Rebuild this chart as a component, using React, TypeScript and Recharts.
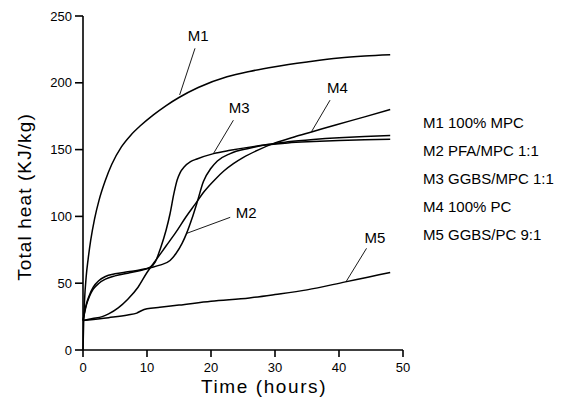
import {
  LineChart,
  Line,
  XAxis,
  YAxis,
  ReferenceLine,
  ReferenceDot,
  Legend,
} from "recharts";

const FONT = "'Liberation Sans', Arial, Helvetica, sans-serif";

// hours / total heat (KJ/kg)
const M1_HOURS = [0, 0.1, 0.25, 0.5, 0.8, 1.2, 1.8, 2.5, 3.5, 4.5, 6, 7.5, 9, 11, 13, 15, 18, 22.5, 26, 30, 35, 40, 44, 48];
const M1_HEAT = [0, 20, 38, 55, 68, 82, 98, 112, 127, 139, 152, 161, 168, 176, 183, 189, 196.5, 204.5, 208.5, 212, 215.5, 218.5, 220, 221];

const M2_HOURS = [0, 0.5, 1, 1.6, 2.5, 3.5, 5, 7, 9, 10.5, 12, 13.6, 14.5, 15.5, 16.2, 17, 17.8, 18.8, 20, 21, 23, 26, 29, 32, 36, 40, 44, 48];
const M2_HEAT = [22, 33, 40, 45.5, 50, 53, 55.5, 57.5, 59.5, 61.5, 63.5, 67, 72, 80, 87.5, 98, 110, 126, 136, 141.5, 147, 151, 154, 155.8, 157.5, 158.8, 159.8, 160.5];

const M3_HOURS = [0, 0.5, 1, 1.6, 2.5, 3.5, 5, 7, 9, 10.5, 11.3, 12.1, 13, 13.6, 14.2, 14.7, 15.2, 15.8, 16.8, 17.8, 20.4, 23, 27.7, 32, 36, 40, 44, 48];
const M3_HEAT = [22, 34, 41, 47, 52, 55, 57, 58.5, 60, 62, 66, 76, 90, 102, 117, 127, 133, 137, 141, 143, 147, 149.5, 153, 155, 156, 156.8, 157.4, 157.8];

const M4_HOURS = [0, 1.5, 3, 4, 5.5, 7, 8.6, 10, 11.5, 13, 14.5, 16, 17.5, 19, 20.6, 22, 23.5, 25, 27.5, 30, 33, 35.7, 39.6, 44, 48];
const M4_HEAT = [22, 23.5, 25, 27, 31.5, 38, 47, 58, 68, 78, 88, 99, 109, 119, 127.5, 134, 139.5, 144, 150, 155, 159.5, 163.2, 168.6, 174.5, 180];

const M5_HOURS = [0, 4, 7, 8.4, 9.2, 10, 12, 15, 20, 26, 30, 35, 41, 44.5, 48];
const M5_HEAT = [22, 24.2, 26.2, 27.6, 29.6, 30.8, 32, 33.6, 36.5, 39, 41.5, 45, 51, 54.5, 58];

const SERIES_TAGS = ["M1", "M2", "M3", "M4", "M5"];
const SERIES_NAMES = [
  "M1 100% MPC",
  "M2 PFA/MPC 1:1",
  "M3 GGBS/MPC 1:1",
  "M4 100% PC",
  "M5 GGBS/PC 9:1",
];

const X_TICKS = [0, 10, 20, 30, 40, 50];
const Y_TICKS = [0, 50, 100, 150, 200, 250];

// tag text position and leader line, in data units
const TAG_TEXT_X = [18.0, 25.5, 24.4, 39.75, 45.6];
const TAG_TEXT_Y = [235, 103, 181.5, 196.5, 84.2];
const LEADER_FROM_X = [17.5, 23.0, 23.5, 38.6, 44.3];
const LEADER_FROM_Y = [225.8, 99.3, 172, 187, 76.1];
const LEADER_TO_X = [15.1, 16.2, 20.4, 35.7, 41.1];
const LEADER_TO_Y = [190.9, 87.3, 147.2, 163.4, 51.1];

const toPoints = (xs: number[], ys: number[]) =>
  xs.map((x, i) => ({ x, y: ys[i] }));

const SERIES = [
  toPoints(M1_HOURS, M1_HEAT),
  toPoints(M2_HOURS, M2_HEAT),
  toPoints(M3_HOURS, M3_HEAT),
  toPoints(M4_HOURS, M4_HEAT),
  toPoints(M5_HOURS, M5_HEAT),
];

const axisStroke = { stroke: "#000", strokeWidth: 1.6 };

function XTitle(props: any) {
  const vb = props.viewBox ?? { x: 83, y: 350, width: 320, height: 60 };
  return (
    <text
      x={vb.x + vb.width / 2 + 21}
      y={vb.y + 43}
      textAnchor="middle"
      fontFamily={FONT}
      fontSize={19}
      letterSpacing={1.6}
      fill="#000"
    >
      Time (hours)
    </text>
  );
}

function YTitle(props: any) {
  const vb = props.viewBox ?? { x: 0, y: 16, width: 83, height: 334 };
  const cx = vb.x + 31;
  const cy = vb.y + vb.height / 2 + 14;
  return (
    <text
      x={cx}
      y={cy}
      transform={`rotate(-90 ${cx} ${cy})`}
      textAnchor="middle"
      fontFamily={FONT}
      fontSize={19}
      letterSpacing={1.1}
      fill="#000"
    >
      Total heat (KJ/kg)
    </text>
  );
}

function LegendList({ payload }: any) {
  return (
    <div
      style={{
        fontFamily: FONT,
        fontSize: 15,
        lineHeight: "28px",
        color: "#000",
        textAlign: "left",
        whiteSpace: "nowrap",
      }}
    >
      {(payload ?? []).map((p: any) => (
        <div key={p.value}>{p.value}</div>
      ))}
    </div>
  );
}

export default function App() {
  return (
    <div style={{ position: "absolute", left: 0, top: 0, background: "#fff" }}>
      <LineChart
        width={563}
        height={410}
        margin={{ top: 16, right: 160, bottom: 0, left: 0 }}
      >
        <XAxis
          type="number"
          dataKey="x"
          domain={[0, 50]}
          ticks={X_TICKS}
          height={60}
          tickSize={7}
          tickMargin={6}
          axisLine={axisStroke}
          tickLine={axisStroke}
          tick={{ fill: "#000", fontSize: 13, fontFamily: FONT }}
          label={<XTitle />}
        />
        <YAxis
          type="number"
          domain={[0, 250]}
          ticks={Y_TICKS}
          width={83}
          tickSize={8}
          tickMargin={3}
          axisLine={axisStroke}
          tickLine={axisStroke}
          tick={{ fill: "#000", fontSize: 13, fontFamily: FONT }}
          label={<YTitle />}
        />
        {SERIES.map((pts, i) => (
          <Line
            key={SERIES_TAGS[i]}
            data={pts}
            dataKey="y"
            name={SERIES_NAMES[i]}
            type="monotone"
            stroke="#000"
            strokeWidth={1.5}
            dot={false}
            activeDot={false}
            isAnimationActive={false}
          />
        ))}
        {SERIES_TAGS.map((tag, i) => (
          <ReferenceLine
            key={`leader-${tag}`}
            segment={[
              { x: LEADER_FROM_X[i], y: LEADER_FROM_Y[i] },
              { x: LEADER_TO_X[i], y: LEADER_TO_Y[i] },
            ]}
            stroke="#000"
            strokeWidth={0.9}
            ifOverflow="visible"
          />
        ))}
        {SERIES_TAGS.map((tag, i) => (
          <ReferenceDot
            key={`tag-${tag}`}
            x={TAG_TEXT_X[i]}
            y={TAG_TEXT_Y[i]}
            r={0}
            stroke="none"
            fill="none"
            ifOverflow="visible"
            label={{
              value: tag,
              position: "center",
              fill: "#000",
              fontSize: 15,
              fontFamily: FONT,
            }}
          />
        ))}
        <Legend
          layout="vertical"
          align="center"
          verticalAlign="middle"
          content={<LegendList />}
          wrapperStyle={{ left: 423, top: 109, width: 140 }}
        />
      </LineChart>
    </div>
  );
}
